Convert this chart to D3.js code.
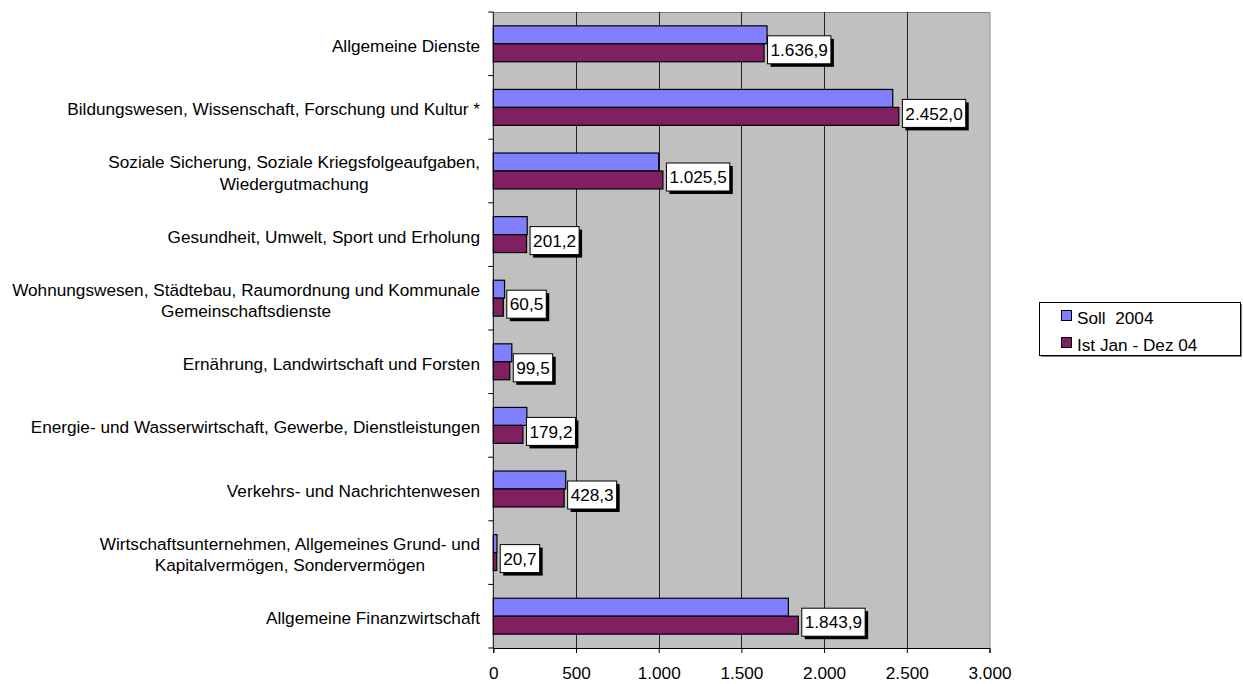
<!DOCTYPE html>
<html>
<head>
<meta charset="utf-8">
<script src="https://cdn.jsdelivr.net/npm/d3@7"></script>
<style>
  body { margin: 0; background: #fff; }
  svg { display: block; font-family: "Liberation Sans", Arial, sans-serif; }
</style>
</head>
<body>
<svg id="chart" width="1243" height="684"></svg>
<script>
const categories = [
  ["Allgemeine Dienste"],
  ["Bildungswesen, Wissenschaft, Forschung und Kultur *"],
  ["Soziale Sicherung, Soziale Kriegsfolgeaufgaben,", "Wiedergutmachung"],
  ["Gesundheit, Umwelt, Sport und Erholung"],
  ["Wohnungswesen, Städtebau, Raumordnung und Kommunale", "Gemeinschaftsdienste"],
  ["Ernährung, Landwirtschaft und Forsten"],
  ["Energie- und Wasserwirtschaft, Gewerbe, Dienstleistungen"],
  ["Verkehrs- und Nachrichtenwesen"],
  ["Wirtschaftsunternehmen, Allgemeines Grund- und", "Kapitalvermögen, Sondervermögen"],
  ["Allgemeine Finanzwirtschaft"]
];
const seriesNames = ["Soll  2004", "Ist Jan - Dez 04"];
const soll = [1655, 2415, 1000, 205, 68, 112, 203, 438, 22, 1784];
const ist  = [1636.9, 2452.0, 1025.5, 201.2, 60.5, 99.5, 179.2, 428.3, 20.7, 1843.9];
const xTicks = [0, 500, 1000, 1500, 2000, 2500, 3000];

const colors = ["#8080FF", "#802060"];
const fs = 17.2;

const de = d3.formatLocale({ decimal: ",", thousands: ".", grouping: [3], currency: ["", " €"] });
const fmtTick = de.format(",.0f");
const fmtVal = de.format(",.1f");

const svg = d3.select("#chart");
const plot = { left: 493.3, right: 989.5, top: 12, bottom: 648 };

const x = d3.scaleLinear().domain([0, 3000]).range([plot.left, plot.right]);
const y = d3.scaleBand().domain(d3.range(categories.length)).range([plot.top, plot.bottom]).padding(0);
const ySub = d3.scaleBand().domain([0, 1]).range([0, y.bandwidth()]).paddingInner(0).paddingOuter(0.77);

// plot area
svg.append("rect")
  .attr("x", plot.left).attr("y", plot.top)
  .attr("width", plot.right - plot.left).attr("height", plot.bottom - plot.top)
  .attr("fill", "#C0C0C0");

svg.append("path")
  .attr("d", `M${plot.left},${plot.top + 0.5}H${plot.right + 0.5}V${plot.bottom}`)
  .attr("fill", "none").attr("stroke", "#808080");

// gridlines
svg.append("g").selectAll("line")
  .data(xTicks.slice(1, -1))
  .join("line")
  .attr("x1", d => Math.round(x(d)) + 0.5).attr("x2", d => Math.round(x(d)) + 0.5)
  .attr("y1", plot.top).attr("y2", plot.bottom)
  .attr("stroke", "#222").attr("stroke-width", 1);

// bars
const groups = svg.append("g").selectAll("g")
  .data(categories.map((c, i) => ({ i, vals: [soll[i], ist[i]] })))
  .join("g")
  .attr("transform", d => `translate(0,${y(d.i)})`);

groups.selectAll("rect")
  .data(d => d.vals.map((v, s) => ({ v, s })))
  .join("rect")
  .attr("x", x(0))
  .attr("y", d => ySub(d.s))
  .attr("width", d => x(d.v) - x(0))
  .attr("height", ySub.bandwidth())
  .attr("fill", d => colors[d.s])
  .attr("stroke", "#000").attr("stroke-width", 1.2);

// value labels on "Ist"
const lab = svg.append("g");
ist.forEach((v, i) => {
  const g = lab.append("g");
  const t = g.append("text")
    .attr("font-size", fs)
    .text(fmtVal(v));
  const w = t.node().getComputedTextLength();
  const bx = x(v) + 3.5, bh = 28, by = y(i) + y.bandwidth() / 2 + 6 - bh / 2, bw = w + 6;
  g.insert("rect", "text").attr("x", bx + 3).attr("y", by + 3).attr("width", bw).attr("height", bh).attr("fill", "#000");
  g.insert("rect", "text").attr("x", bx).attr("y", by).attr("width", bw).attr("height", bh)
    .attr("fill", "#fff").attr("stroke", "#000").attr("stroke-width", 1);
  t.attr("x", bx + 3).attr("y", by + bh / 2).attr("dy", "0.36em");
});

// axes
const xAxis = svg.append("g")
  .attr("transform", `translate(0,${plot.bottom})`)
  .call(d3.axisBottom(x).tickValues(xTicks).tickFormat(fmtTick).tickSize(5).tickPadding(14));
xAxis.attr("font-family", null);
xAxis.select(".domain").attr("stroke", "#000");
xAxis.selectAll("text").attr("font-size", fs).attr("fill", "#000");

svg.append("line")
  .attr("x1", plot.left).attr("x2", plot.left)
  .attr("y1", plot.top).attr("y2", plot.bottom)
  .attr("stroke", "#000");
svg.append("g").selectAll("line")
  .data(d3.range(categories.length + 1))
  .join("line")
  .attr("x1", plot.left - 5).attr("x2", plot.left)
  .attr("y1", d => y.step() * d + plot.top).attr("y2", d => y.step() * d + plot.top)
  .attr("stroke", "#000");

// category labels
const lh = 21.3;
const catG = svg.append("g").attr("font-size", fs);
categories.forEach((lines, i) => {
  const cy = y(i) + y.bandwidth() / 2;
  const t = catG.append("text").attr("text-anchor", "middle");
  lines.forEach((ln, k) => {
    t.append("tspan").attr("y", cy + (k - (lines.length - 1) / 2) * lh).attr("dy", "0.47em").text(ln);
  });
  let maxW = 0;
  t.selectAll("tspan").each(function () { maxW = Math.max(maxW, this.getComputedTextLength()); });
  t.selectAll("tspan").attr("x", 480 - maxW / 2);
});

// legend
const lg = svg.append("g");
lg.append("rect").attr("x", 1041).attr("y", 304).attr("width", 201).attr("height", 53).attr("fill", "#808080");
lg.append("rect").attr("x", 1039.5).attr("y", 302.5).attr("width", 201).attr("height", 53)
  .attr("fill", "#fff").attr("stroke", "#000");
seriesNames.forEach((n, s) => {
  const ly = 310 + s * 27;
  lg.append("rect").attr("x", 1061.5).attr("y", ly + 0.5).attr("width", 10).attr("height", 10)
    .attr("fill", colors[s]).attr("stroke", "#000");
  lg.append("text").attr("x", 1077).attr("y", ly + 6).attr("dy", "0.48em")
    .attr("font-size", fs).style("white-space", "pre").text(n);
});
</script>
</body>
</html>
